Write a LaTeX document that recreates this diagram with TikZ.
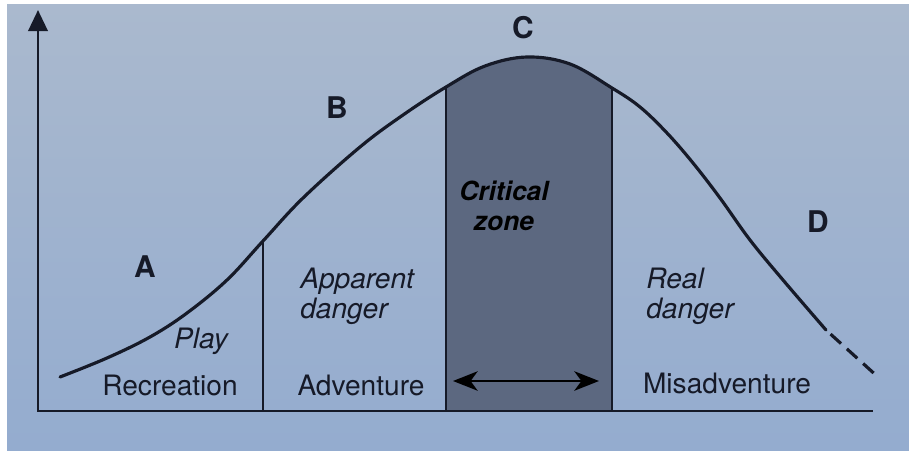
\documentclass[tikz,border=0pt]{standalone}
\usepackage{fontspec}
\setmainfont{TeX Gyre Heros}
\usetikzlibrary{arrows.meta}
\definecolor{bgtop}{RGB}{170,185,206}
\definecolor{bgbot}{RGB}{148,172,207}
\definecolor{ink}{RGB}{22,26,40}
\definecolor{zonefill}{RGB}{92,104,128}
\tikzset{
  curveline/.style={draw=ink, line width=1.8pt, line cap=round, line join=round},
  axisline/.style={draw=ink, line width=1.6pt},
  divline/.style={draw=ink, line width=1.6pt},
  lbl/.style={text=ink, font=\fontsize{16}{18}\selectfont, inner sep=0pt},
  ilbl/.style={text=ink, font=\fontsize{16}{17}\selectfont\itshape, inner sep=0pt, align=left},
  zlbl/.style={text=black, font=\fontsize{15}{17}\selectfont\bfseries\itshape, inner sep=0pt, align=center},
  letter/.style={text=ink, font=\fontsize{17}{20}\selectfont\bfseries, inner sep=0pt},
}
\begin{document}
\begin{tikzpicture}[x=0.02cm, y=-0.02cm]
\useasboundingbox (0,0) rectangle (909,450);
\fill[white] (0,0) rectangle (909,450);
\shade[top color=bgtop, bottom color=bgbot] (7,4) rectangle (909,450);

% critical zone fill
\begin{scope}
  \clip (446,0) rectangle (612,411);
  \fill[zonefill] plot[smooth, tension=0.6] coordinates {(60,377) (107,358) (150,337) (187,313) (227,280) (263,241) (303,198) (360,147) (403,115) (446,87) (485,66) (527,57) (570,64) (612,88) (640,107) (667,133) (693,163) (720,198) (750,240) (783,280) (826,330)} -- (826,411) -- (60,411) -- cycle;
\end{scope}

% axes
\coordinate (ytop) at (38,10);
\coordinate (O) at (38,411);
\coordinate (xend) at (873,411);
\draw[axisline, {Triangle[width=11pt,length=12pt]}-] (ytop) -- (O) -- (xend);

% curve
\draw[curveline] plot[smooth, tension=0.6] coordinates {(60,377) (107,358) (150,337) (187,313) (227,280) (263,241) (303,198) (360,147) (403,115) (446,87) (485,66) (527,57) (570,64) (612,88) (640,107) (667,133) (693,163) (720,198) (750,240) (783,280) (826,330)};
\coordinate (solidend) at (826,330);
\coordinate (dashend) at (878,377);
\draw[curveline, line cap=butt, dash pattern=on 0pt off 3.5pt on 8pt off 4.5pt on 8pt off 4.5pt on 8pt off 10pt] (solidend) -- (dashend);

% dividers
\coordinate (d1t) at (263,241); \coordinate (d1b) at (263,411);
\coordinate (d2t) at (446,87);  \coordinate (d2b) at (446,411);
\coordinate (d3t) at (612,88);  \coordinate (d3b) at (612,411);
\draw[divline] (d1t) -- (d1b);
\draw[divline] (d2t) -- (d2b);
\draw[divline] (d3t) -- (d3b);

% double arrow
\coordinate (arL) at (453,381);
\coordinate (arR) at (599,381);
\draw[black, line width=1.6pt, {Stealth[length=14pt,width=11pt,inset=4pt]}-{Stealth[length=14pt,width=11pt,inset=4pt]}] (arL) -- (arR);

% letters
\node[letter] (lC) at (523,28) {C};
\node[letter] (lB) at (337,108) {B};
\node[letter] (lA) at (145,267) {A};
\node[letter] (lD) at (818,222) {D};

% labels
\node[zlbl] (crit) at (504,206) {Critical\\zone};
\node[ilbl, anchor=west] (app) at (300,296) {Apparent\\danger};
\node[ilbl, anchor=west] (real) at (646,296) {Real\\danger};
\node[ilbl] (play) at (201,341) {Play};
\node[lbl] (rec) at (170,385) {Recreation};
\node[lbl] (adv) at (361,385) {Adventure};
\node[lbl] (mis) at (727,383) {Misadventure};
\end{tikzpicture}
\end{document}
